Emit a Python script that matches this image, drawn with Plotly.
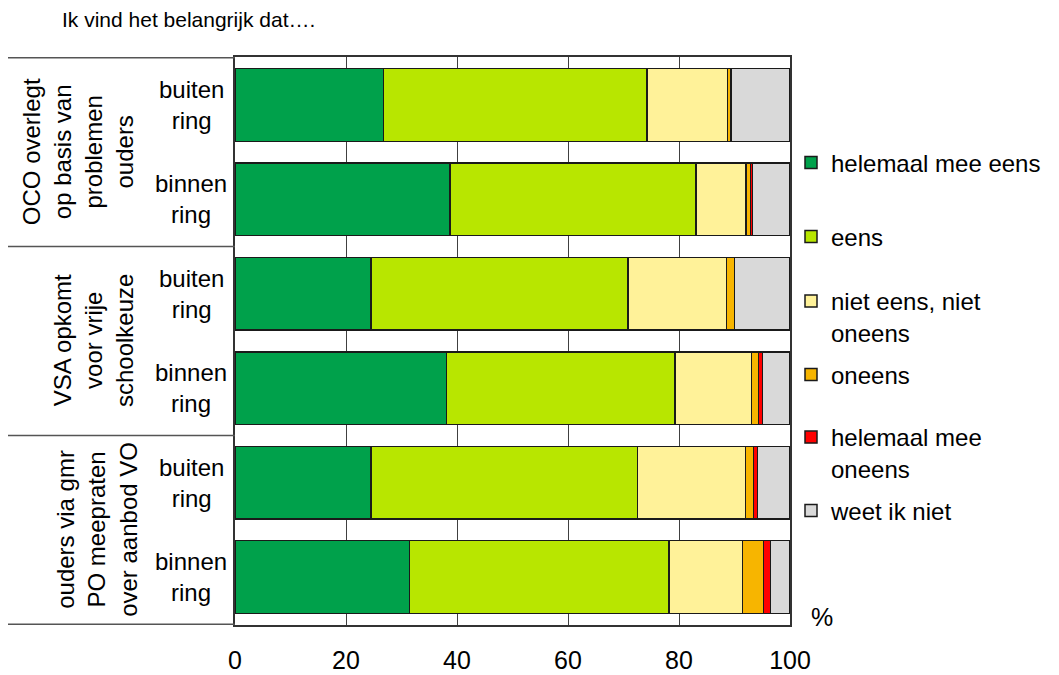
import plotly.graph_objects as go

# answer categories (legend order) and colours
categories = ['helemaal mee eens', 'eens', 'niet eens, niet<br>oneens', 'oneens',
              'helemaal mee<br>oneens', 'weet ik niet']
colors = ['#00A14B', '#B8E600', '#FFF299', '#F7B500', '#FF0000', '#D9D9D9']

# statement groups and ring sub rows (top to bottom)
groups = ['OCO overlegt<br>op basis van<br>problemen<br>ouders',
          'VSA opkomt<br>voor vrije<br>schoolkeuze',
          'ouders via gmr<br>PO meepraten<br>over aanbod VO']
group_keys = ['OCO', 'VSA', 'gmr']
subgroups = ['buiten<br>ring', 'binnen<br>ring']

# percentages per row: OCO buiten, OCO binnen, VSA buiten, VSA binnen, gmr buiten, gmr binnen
helemaal_mee_eens = [26.8, 38.7, 24.5, 38.1, 24.5, 31.4]
eens = [47.4, 44.4, 46.3, 41.2, 48.0, 46.8]
niet_eens_niet_oneens = [14.5, 9.0, 17.8, 13.8, 19.5, 13.2]
oneens = [0.7, 0.8, 1.4, 1.2, 1.4, 3.8]
helemaal_mee_oneens = [0.0, 0.3, 0.0, 0.7, 0.7, 1.3]
weet_ik_niet = [10.6, 6.8, 10.0, 5.0, 5.9, 3.5]

series = [helemaal_mee_eens, eens, niet_eens_niet_oneens, oneens, helemaal_mee_oneens, weet_ik_niet]

rows = [g + ' ' + s.replace('<br>', ' ') for g in group_keys for s in subgroups]

FONT = 'Liberation Sans, Arial, sans-serif'
OFF = 8                       # the page puts the figure 8px in from the corner
W, H = 1059 - OFF, 675 - OFF
L, R, T, B = 235 - OFF, 790 - OFF, 57 - OFF, 625 - OFF   # plot area in figure pixels


def px(xs):
    # screen x pixel -> paper x
    return (xs - OFF - L) / (R - L)


fig = go.Figure()
for i, (name, vals) in enumerate(zip(categories, series)):
    fig.add_trace(go.Bar(
        y=rows, x=vals, name=name, orientation='h',
        marker=dict(color=colors[i], line=dict(color='#1a1a1a', width=1.5)),
        legend='legend' if i == 0 else 'legend%d' % (i + 1),
    ))

# one legend per entry so the spacing can follow the original
leg_y = [163, 237, 317, 375, 453, 511]
legends = {}
for i, py in enumerate(leg_y):
    key = 'legend' if i == 0 else 'legend%d' % (i + 1)
    legends[key] = dict(
        xref='container', yref='container', x=(791 - OFF) / W, y=1 - (py - OFF) / H,
        xanchor='left', yanchor='middle', valign='top',
        font=dict(family=FONT, size=24, color='black'),
        bgcolor='rgba(0,0,0,0)', itemwidth=30, tracegroupgap=0,
    )

ann = []
# ring labels
for r in rows:
    ann.append(dict(x=px(191), y=r, xref='paper', yref='y',
                    text=subgroups[0] if 'buiten' in r else subgroups[1],
                    showarrow=False, align='center', xanchor='center', yanchor='middle',
                    font=dict(family=FONT, size=24, color='black')))
# rotated statement labels
group_x = [78, 93, 97]
for gi, g in enumerate(groups):
    ann.append(dict(x=px(group_x[gi]), y=gi * 2 + 0.5, xref='paper', yref='y',
                    text=g, textangle=-90, showarrow=False, align='center',
                    xanchor='center', yanchor='middle',
                    font=dict(family=FONT, size=24, color='black')))
ann.append(dict(x=px(822), y=(B - (617 - OFF)) / (B - T), xref='paper', yref='paper',
                text='%', showarrow=False, xanchor='center', yanchor='middle',
                font=dict(family=FONT, size=25, color='black')))

# lines framing the label column
shapes = []
for yb in [-0.5, 1.5, 3.5, 5.5]:
    shapes.append(dict(type='line', xref='paper', yref='y', x0=px(8), x1=0,
                       y0=yb, y1=yb, line=dict(color='#555555', width=1.5)))

fig.update_layout(
    **legends,
    showlegend=True,
    width=W, height=H,
    margin=dict(l=L, r=W - R, t=T, b=H - B, pad=0, autoexpand=False),
    barmode='stack', bargap=0.23,
    plot_bgcolor='white', paper_bgcolor='white',
    font=dict(family=FONT, color='black'),
    title=dict(text='Ik vind het belangrijk dat….', xref='container', yref='container',
               x=(62 - OFF) / W, y=1 - (20 - OFF) / H, xanchor='left', yanchor='middle',
               font=dict(family=FONT, size=21, color='black')),
    xaxis=dict(range=[0, 100], tickvals=[0, 20, 40, 60, 80, 100], showgrid=True,
               gridcolor='#404040', gridwidth=1, zeroline=False, showline=True, mirror=True,
               linecolor='#333333', linewidth=1.5, ticks='', ticklabelstandoff=12,
               tickfont=dict(family=FONT, size=25, color='black')),
    yaxis=dict(categoryorder='array', categoryarray=rows, autorange='reversed',
               showticklabels=False, showgrid=False, zeroline=False, showline=True,
               mirror=True, linecolor='#333333', linewidth=1.5, ticks=''),
    annotations=ann, shapes=shapes,
)

fig.write_html('out.html')
